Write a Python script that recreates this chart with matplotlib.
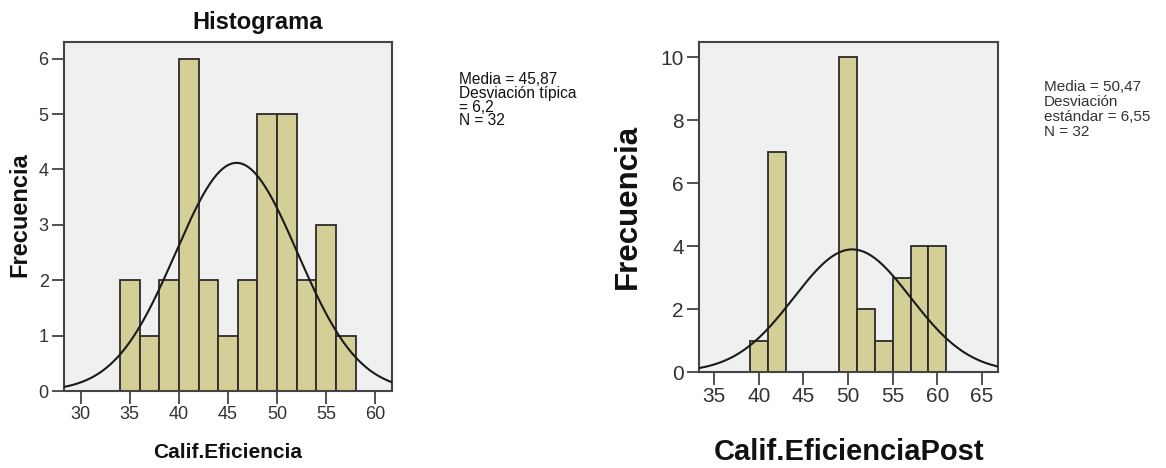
import numpy as np
import matplotlib.pyplot as plt

plt.rcParams['font.family'] = ['Liberation Sans', 'DejaVu Sans']

# Pre-test histogram (bin width 2)
pre_edges = [34, 36, 38, 40, 42, 44, 46, 48, 50, 52, 54, 56, 58]
pre_counts = [2, 1, 2, 6, 2, 1, 2, 5, 5, 2, 3, 1]
pre_mean, pre_sd, pre_n = 45.87, 6.2, 32

# Post-test histogram (bin width 2)
post_edges = [39, 41, 43, 45, 47, 49, 51, 53, 55, 57, 59, 61]
post_counts = [1, 7, 0, 0, 0, 10, 2, 1, 3, 4, 4]
post_mean, post_sd, post_n = 50.47, 6.55, 32

bar_color = '#d4cf97'
bg_color = '#f0f0f0'


def draw_hist(ax, edges, counts, mean, sd, n, xlim, ylim, xticks, yticks, tick_size):
    edges = np.array(edges, dtype=float)
    widths = np.diff(edges)
    ax.set_facecolor(bg_color)
    ax.bar(edges[:-1], counts, width=widths, align='edge', color=bar_color,
           edgecolor='#2b2b2b', linewidth=1.3, zorder=2)
    bw = widths[0]
    xs = np.linspace(xlim[0], xlim[1], 300)
    ys = n * bw / (sd * np.sqrt(2 * np.pi)) * np.exp(-0.5 * ((xs - mean) / sd) ** 2)
    ax.plot(xs, ys, color='#1a1a1a', linewidth=1.5, zorder=3)
    ax.set_xlim(*xlim)
    ax.set_ylim(*ylim)
    ax.set_xticks(xticks)
    ax.set_yticks(yticks)
    ax.tick_params(direction='out', length=9, width=1.2, labelsize=tick_size,
                   colors='#333333', pad=2)
    for s in ax.spines.values():
        s.set_color('#444444')
        s.set_linewidth(1.5)


fig = plt.figure(figsize=(11.66, 4.68), dpi=100)

ax1 = fig.add_axes([0.0549, 0.1645, 0.2813, 0.7458])
draw_hist(ax1, pre_edges, pre_counts, pre_mean, pre_sd, pre_n,
          (28.3, 61.7), (0, 6.3), [30, 35, 40, 45, 50, 55, 60], range(0, 7), 13)

ax2 = fig.add_axes([0.5995, 0.2051, 0.2564, 0.7058])
draw_hist(ax2, post_edges, post_counts, post_mean, post_sd, post_n,
          (33.3, 66.8), (0, 10.5), [35, 40, 45, 50, 55, 60, 65], range(0, 11, 2), 15)

fig.text(258 / 1166, 1 - 22 / 468, 'Histograma', ha='center', va='center',
         fontsize=17, fontweight='bold', color='#111111')

fig.text(20 / 1166, 1 - 215 / 468, 'Frecuencia', rotation=90, ha='center', va='center',
         fontsize=17, fontweight='bold', color='#111111')
fig.text(228 / 1166, 1 - 453 / 468, 'Calif.Eficiencia', ha='center', va='center',
         fontsize=15, fontweight='bold', color='#111111')

fig.text(628 / 1166, 1 - 206 / 468, 'Frecuencia', rotation=90, ha='center', va='center',
         fontsize=22.5, fontweight='bold', color='#111111')
fig.text(849 / 1166, 1 - 452 / 468, 'Calif.EficienciaPost', ha='center', va='center',
         fontsize=21, fontweight='bold', color='#111111')

fig.text(459 / 1166, 1 - 72 / 468,
         'Media = 45,87\nDesviación típica\n= 6,2\nN = 32',
         ha='left', va='top', fontsize=11.2, linespacing=0.9, color='#111111')
fig.text(1044 / 1166, 1 - 80 / 468,
         'Media = 50,47\nDesviación\nestándar = 6,55\nN = 32',
         ha='left', va='top', fontsize=11, linespacing=1.08, color='#333333')

fig.savefig('out.png', dpi=100, facecolor='white')
